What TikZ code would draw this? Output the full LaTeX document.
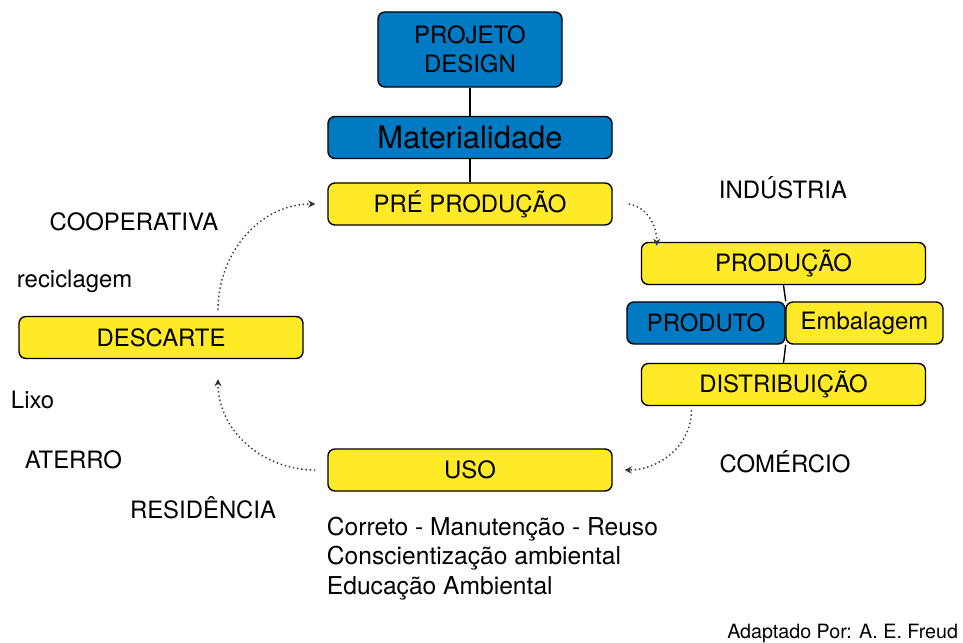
\documentclass[tikz,border=0pt]{standalone}
\usepackage{fontspec}
\setmainfont{TeX Gyre Heros}
\usetikzlibrary{positioning, arrows.meta}
\definecolor{ciclobranco}{RGB}{255,255,255}
\definecolor{cicloazul}{RGB}{0,122,194}
\definecolor{cicloamarelo}{RGB}{255,234,40}

\begin{document}
\begin{tikzpicture}[x=0.025cm, y=-0.025cm]
% Define box styles
\tikzstyle{etapa} = [rectangle, rounded corners=5pt, draw=black, line width=1pt, fill=cicloamarelo, text centered, minimum height=1.05cm, minimum width=7.1cm, font=\fontsize{17}{19}\selectfont]
\tikzstyle{azul} = [etapa, fill=cicloazul]
\tikzstyle{rotulo} = [font=\fontsize{17}{19}\selectfont]
\tikzstyle{ciclo} = [-{Stealth[length=5pt, width=5pt]}, dotted, line width=1pt, draw=black!80]
\tikzstyle{liga} = [line width=1pt, draw=black]
% Background / bounding box
\useasboundingbox[fill=ciclobranco] (0,0) rectangle (963,643);
% Define nodes (top column)
\node[azul, minimum width=4.6cm, minimum height=1.875cm, align=center] (Projeto) at (470,49.5) {PROJETO\\[2pt]DESIGN};
\node[azul, font=\fontsize{22}{24}\selectfont] (Materialidade) at (470,137.5) {Materialidade};
\node[etapa] (PreProducao) at (470,204) {PRÉ PRODUÇÃO};
% Define nodes (industry side)
\node[etapa] (Producao) at (783.5,263.5) {PRODUÇÃO};
\node[azul, minimum width=3.95cm] (Produto) at (706,323) {PRODUTO};
\node[etapa, minimum width=3.925cm] (Embalagem) at (864.5,323) {Embalagem};
\node[etapa] (Distribuicao) at (783.5,384.5) {DISTRIBUIÇÃO};
% Define nodes (use and disposal)
\node[etapa] (Uso) at (470,470) {USO};
\node[etapa] (Descarte) at (161,337.5) {DESCARTE};
% Free labels
\node[rotulo] (Industria) at (783,188) {INDÚSTRIA};
\node[rotulo] (Comercio) at (785,462) {COMÉRCIO};
\node[rotulo] (Residencia) at (203,508) {RESIDÊNCIA};
\node[rotulo] (Cooperativa) at (134,222) {COOPERATIVA};
\node[rotulo, anchor=west] (Reciclagem) at (12,281) {reciclagem};
\node[rotulo, anchor=west] (Lixo) at (6,400) {Lixo};
\node[rotulo, anchor=west] (Aterro) at (20,460) {ATERRO};
\node[rotulo, anchor=north west, align=left, font=\fontsize{17.5}{21}\selectfont] (Consciencia) at (322,512) {Correto - Manutenção - Reuso\\Conscientização ambiental\\Educação Ambiental};
\node[font=\fontsize{14}{16}\selectfont, anchor=east] (Fonte) at (963,633) {Adaptado Por: A. E. Freud};
% Relationships (lines)
\draw[liga] (Projeto) -- (Materialidade);
\draw[liga] (Materialidade) -- (PreProducao);
\draw[liga] (Producao.south) -- (Produto.north east);
\draw[liga] (Produto.south east) -- (Distribuicao.north);
% Cycle (dotted arrows)
\draw[ciclo] ([xshift=0.4cm]PreProducao.east) to[out=-10, in=90] ([xshift=0.4cm, yshift=-0.1cm]Producao.north west);
\draw[ciclo] ([xshift=-2.3cm, yshift=-0.1cm]Distribuicao.south) to[out=-90, in=0] ([xshift=0.3cm]Uso.east);
\draw[ciclo] ([xshift=-0.3cm]Uso.west) to[out=180, in=-90] ([xshift=1.425cm, yshift=-0.5cm]Descarte.south);
\draw[ciclo] ([xshift=1.425cm, yshift=0.15cm]Descarte.north) to[out=90, in=180] ([xshift=-0.3cm]PreProducao.west);
\end{tikzpicture}
\end{document}
